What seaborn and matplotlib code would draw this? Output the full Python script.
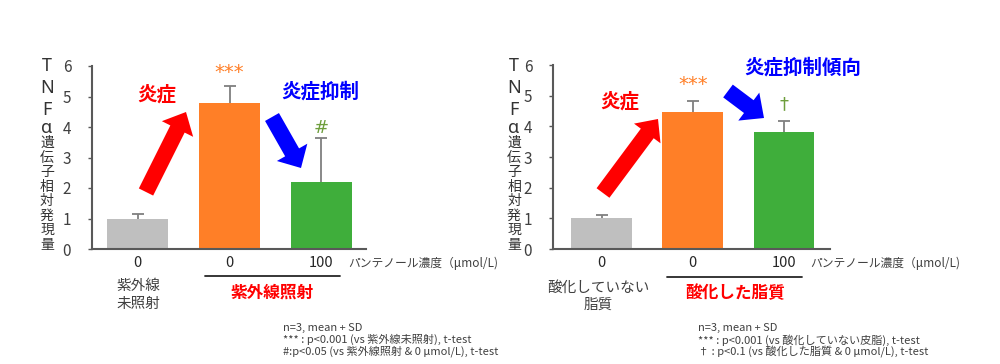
import matplotlib
matplotlib.use("Agg")
import matplotlib.pyplot as plt
import matplotlib.patches as mpatches
from matplotlib.lines import Line2D
import seaborn as sns
import pandas as pd

# ---------------- data ----------------
left_groups = ["紫外線未照射", "紫外線照射 0", "紫外線照射 100"]
left_means = [1.0, 4.8, 2.2]
left_sd = [0.15, 0.55, 1.43]

right_groups = ["酸化していない脂質", "酸化した脂質 0", "酸化した脂質 100"]
right_means = [1.0, 4.47, 3.8]
right_sd = [0.1, 0.34, 0.39]

tick_labels = ["0", "0", "100"]
bar_colors = ["#BFBFBF", "#FF7F27", "#3FAE3B"]
y_ticks = [0, 1, 2, 3, 4, 5, 6]

left_marks = ["", "***", "#"]
right_marks = ["", "***", "†"]

ylabel_text = "TNFα遺伝子相対発現量"
conc_label = "パンテノール濃度（μmol/L)"
left_notes = ["n=3, mean + SD",
              "*** : p<0.001 (vs 紫外線未照射), t-test",
              "#:p<0.05 (vs 紫外線照射 & 0 μmol/L), t-test"]
right_notes = ["n=3, mean + SD",
               "*** : p<0.001 (vs 酸化していない皮脂), t-test",
               "† : p<0.1 (vs 酸化した脂質 & 0 μmol/L), t-test"]

# ---------------- style ----------------
sns.set_style("ticks")
plt.rcParams['font.family'] = ['Noto Sans CJK JP', 'DejaVu Sans']

W, H = 1000, 364
fig = plt.figure(figsize=(W / 100, H / 100), dpi=100)


def fx(x):
    return x / W


def fy(y):
    return 1 - y / H


def ftext(x, y, s, **kw):
    kw.setdefault("ha", "center")
    kw.setdefault("va", "center")
    fig.text(fx(x), fy(y), s, transform=fig.transFigure, **kw)


def farrow(x0, y0, x1, y1, width, head_width, head_length, color):
    a = mpatches.FancyArrow(x0 / 100, (H - y0) / 100, (x1 - x0) / 100, -(y1 - y0) / 100,
                            width=width / 100, head_width=head_width / 100,
                            head_length=head_length / 100, length_includes_head=True,
                            transform=fig.dpi_scale_trans, color=color, lw=0)
    fig.add_artist(a)


def panel(ax_px, xlim, width, groups, means, sds, marks, mark_y):
    left, right, top, bottom = ax_px
    ax = fig.add_axes([fx(left), fy(bottom), fx(right) - fx(left), fy(top) - fy(bottom)])
    df = pd.DataFrame({"group": groups, "value": means})
    sns.barplot(data=df, x="group", y="value", hue="group", palette=bar_colors,
                order=groups, hue_order=groups, width=width, errorbar=None,
                legend=False, ax=ax, saturation=1, edgecolor="none")
    eb = ax.errorbar(range(len(means)), means, yerr=[[0] * len(sds), sds], fmt="none",
                     ecolor="#7F7F7F", elinewidth=1.3, capsize=4, capthick=1.3)
    # keep only the upper caps
    eb[1][0].set_visible(False)
    ax.set_ylim(0, 6)
    ax.set_xlim(*xlim)
    ax.set_yticks(y_ticks)
    ax.set_yticklabels([str(t) for t in y_ticks])
    ax.set_xticks(range(len(groups)))
    ax.set_xticklabels(tick_labels)
    ax.set_xlabel("")
    ax.set_ylabel("")
    ax.tick_params(axis="y", length=3, width=1, color="#595959", pad=12,
                   labelsize=11, labelcolor="#404040")
    ax.tick_params(axis="x", length=0, pad=5, labelsize=10.5, labelcolor="#262626")
    for s in ["top", "right"]:
        ax.spines[s].set_visible(False)
    for s in ["left", "bottom"]:
        ax.spines[s].set_color("#595959")
        ax.spines[s].set_linewidth(1.5)
    ax.patch.set_alpha(0)
    mark_colors = ["none", "#FF7F27", "#6E9E3C"]
    for i, (m, yy) in enumerate(zip(marks, mark_y)):
        if m:
            ax.text(i, yy, m, ha="center", va="center", color=mark_colors[i],
                    fontsize=13 if m != "***" else 14, family=['DejaVu Sans'],
                    clip_on=False)
    return ax


# left panel
panel((92, 366, 66, 249), (-0.495, 2.484), 0.663, left_groups, left_means, left_sd,
      left_marks, [0, 5.78, 3.97])
# right panel
panel((553, 830, 65, 249), (-0.532, 2.504), 0.668, right_groups, right_means, right_sd,
      right_marks, [0, 5.36, 4.72])

# stacked y labels
for x0 in (47, 514):
    latin_y = [66, 88, 110, 128]
    for ch, yy in zip(ylabel_text[:4], latin_y):
        ftext(x0, yy, ch, fontsize=13, color="#333333", family=['Noto Sans', 'DejaVu Sans'])
    for k, ch in enumerate(ylabel_text[4:]):
        ftext(x0, 143 + k * 14.5, ch, fontsize=10, color="#333333")

# concentration labels
ftext(348, 263, conc_label, ha="left", fontsize=8.5, color="#404040")
ftext(810, 263, conc_label, ha="left", fontsize=8.5, color="#404040")

# group lines
fig.add_artist(Line2D([fx(205), fx(340)], [fy(276), fy(276)], color="#262626", lw=1.3,
                      transform=fig.transFigure))
fig.add_artist(Line2D([fx(667), fx(802)], [fy(277), fy(277)], color="#262626", lw=1.3,
                      transform=fig.transFigure))

# group labels
ftext(272, 293, "紫外線照射", fontsize=12, color="#FF0000", fontweight="bold")
ftext(735, 293, "酸化した脂質", fontsize=12, color="#FF0000", fontweight="bold")
ftext(138, 295, "紫外線\n未照射", fontsize=10.5, color="#404040", linespacing=1.3)
ftext(598, 296, "酸化していない\n脂質", fontsize=10.5, color="#404040", linespacing=1.3)

# footnotes
for k, s in enumerate(left_notes):
    ftext(283, 328 + k * 11.6, s, ha="left", fontsize=8, color="#404040")
for k, s in enumerate(right_notes):
    ftext(698, 328 + k * 11.8, s, ha="left", fontsize=8, color="#404040")

# callout texts
ftext(157, 95, "炎症", fontsize=14, color="#FF0000", fontweight="bold")
ftext(320, 92, "炎症抑制", fontsize=14, color="#0000FF", fontweight="bold")
ftext(620, 102, "炎症", fontsize=14, color="#FF0000", fontweight="bold")
ftext(803, 68, "炎症抑制傾向", fontsize=14, color="#0000FF", fontweight="bold")

# arrows
farrow(146, 192, 186, 112, 16, 35, 19, "#FF0000")
farrow(272, 117, 301, 168, 16, 35, 18, "#0000FF")
farrow(603, 193, 658, 119, 16, 33, 18, "#FF0000")
farrow(728, 91, 764, 118, 16, 35, 19, "#0000FF")

fig.savefig("out.png", dpi=100)
